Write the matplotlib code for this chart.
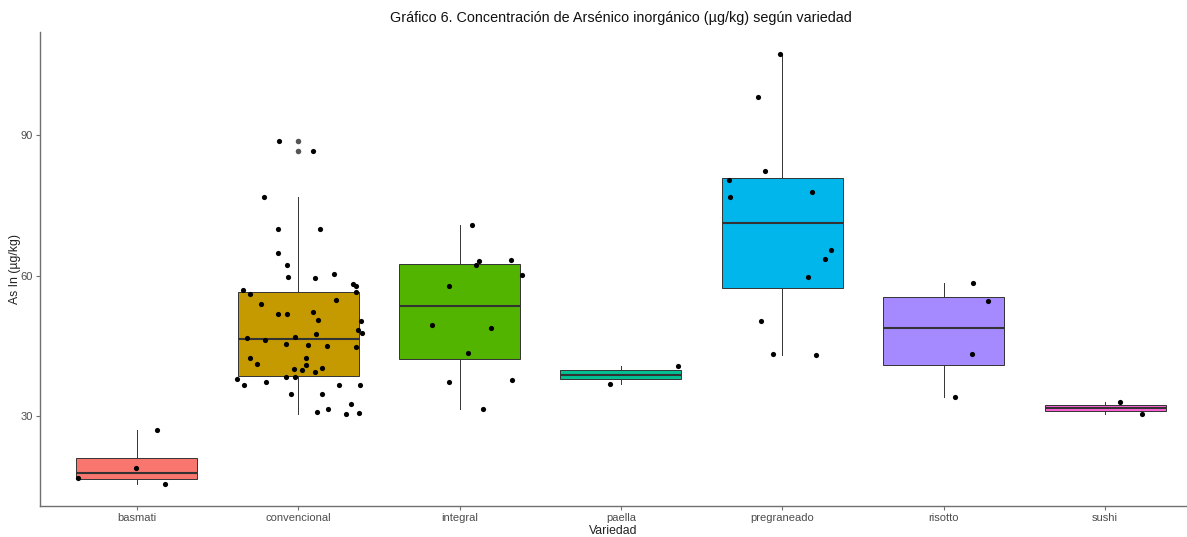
import matplotlib
matplotlib.use("Agg")
import matplotlib.pyplot as plt
import numpy as np

plt.rcParams['font.family'] = ['Liberation Sans', 'DejaVu Sans']

categories = ["basmati", "convencional", "integral", "paella", "pregraneado", "risotto", "sushi"]
colors = ["#F8766D", "#C49A00", "#53B400", "#00C094", "#00B6EB", "#A58AFF", "#FB61D7"]

basmati_vals = [27.0, 19.1, 16.9, 15.5]
basmati_jit = [0.128, -0.006, -0.362, 0.177]

convencional_vals = [88.7, 86.6, 76.8, 69.9, 69.9, 64.8, 62.3, 59.8, 59.4, 60.4,
                     58.2, 57.8, 56.6, 57.0, 56.0, 54.9, 54.0, 51.9, 51.9, 52.2,
                     50.6, 50.3, 48.4, 47.7, 47.5, 46.7, 46.3, 47.0, 45.5, 45.2,
                     45.0, 44.7, 42.4, 41.1, 42.4, 41.0, 40.1, 39.9, 39.4, 40.3,
                     38.4, 38.4, 38.0, 36.6, 37.4, 36.7, 36.7, 34.7, 34.7, 32.6,
                     31.0, 31.5, 30.5, 30.8]
convencional_jit = [-0.118, 0.089, -0.211, -0.122, 0.135, -0.128, -0.070, -0.066, 0.104, 0.221,
                    0.341, 0.358, 0.358, -0.341, -0.299, 0.232, -0.229, -0.128, -0.072, 0.089,
                    0.124, 0.387, 0.368, 0.395, 0.110, -0.320, -0.208, -0.019, -0.074, 0.058,
                    0.180, 0.360, -0.299, -0.254, 0.048, 0.048, -0.025, 0.021, 0.104, 0.145,
                    -0.078, -0.022, -0.382, -0.337, -0.202, 0.250, 0.381, -0.045, 0.145, 0.327,
                    0.114, 0.184, 0.298, 0.374]

integral_vals = [70.7, 63.0, 62.3, 63.3, 60.1, 57.7, 49.4, 48.8, 43.6, 37.4, 37.7, 31.6]
integral_jit = [0.076, 0.118, 0.099, 0.316, 0.389, -0.066, -0.169, 0.197, 0.051, -0.066, 0.327, 0.143]

paella_vals = [40.8, 36.9]
paella_jit = [0.351, -0.066]

pregraneado_vals = [107.3, 98.1, 82.3, 80.4, 76.8, 77.9, 65.5, 63.6, 59.7, 50.3, 43.3, 43.1]
pregraneado_jit = [-0.012, -0.153, -0.105, -0.330, -0.324, 0.186, 0.304, 0.262, 0.157, -0.132, -0.060, 0.211]

risotto_vals = [58.4, 54.5, 43.3, 34.1]
risotto_jit = [0.182, 0.273, 0.176, 0.068]

sushi_vals = [33.1, 30.4]
sushi_jit = [0.095, 0.228]

all_vals = [basmati_vals, convencional_vals, integral_vals, paella_vals,
            pregraneado_vals, risotto_vals, sushi_vals]
all_jit = [basmati_jit, convencional_jit, integral_jit, paella_jit,
           pregraneado_jit, risotto_jit, sushi_jit]

y_ticks = [30, 60, 90]

W, H = 1187, 537
fig = plt.figure(figsize=(W / 100, H / 100), dpi=100)
ax = fig.add_axes([40 / W, 1 - 506 / H, 1 - 40 / W, (506 - 32) / H])

positions = np.arange(1, len(categories) + 1)
edge = "#333333"
bp = ax.boxplot(all_vals, positions=positions, widths=0.75, patch_artist=True,
                whis=1.5, showcaps=False,
                medianprops=dict(color=edge, linewidth=1.5),
                whiskerprops=dict(color=edge, linewidth=0.7),
                boxprops=dict(edgecolor=edge, linewidth=0.7),
                flierprops=dict(marker='o', markersize=4, markerfacecolor='#555555',
                                markeredgecolor='none'))
for patch, c in zip(bp['boxes'], colors):
    patch.set_facecolor(c)

for pos, vals, jit in zip(positions, all_vals, all_jit):
    ax.scatter(pos + np.array(jit), vals, s=14, color='black', zorder=5, linewidths=0)

ax.set_xlim(0.4, 7.0 + (1187 - 1105) / 161.4)
ax.set_ylim(10.9, 111.9)
ax.set_xticks(positions)
ax.set_xticklabels(categories)
ax.set_yticks(y_ticks)

for s in ['top', 'right']:
    ax.spines[s].set_visible(False)
for s in ['left', 'bottom']:
    ax.spines[s].set_color('#707070')
    ax.spines[s].set_linewidth(1.0)
ax.tick_params(axis='both', colors='#707070', labelcolor='#4D4D4D', labelsize=8,
               length=3, width=0.8, pad=2)

ax.set_xlabel("Variedad", fontsize=8.8, color='#222222', labelpad=1.5)
ax.set_ylabel("As In (µg/kg)", fontsize=8.8, color='#222222', labelpad=-0.5)

fig.text(621 / W, 1 - 18 / H,
         "Gráfico 6. Concentración de Arsénico inorgánico (µg/kg) según variedad",
         ha='center', va='center', fontsize=10.4, color='#111111')

fig.savefig("out.png", dpi=100, facecolor='white')
